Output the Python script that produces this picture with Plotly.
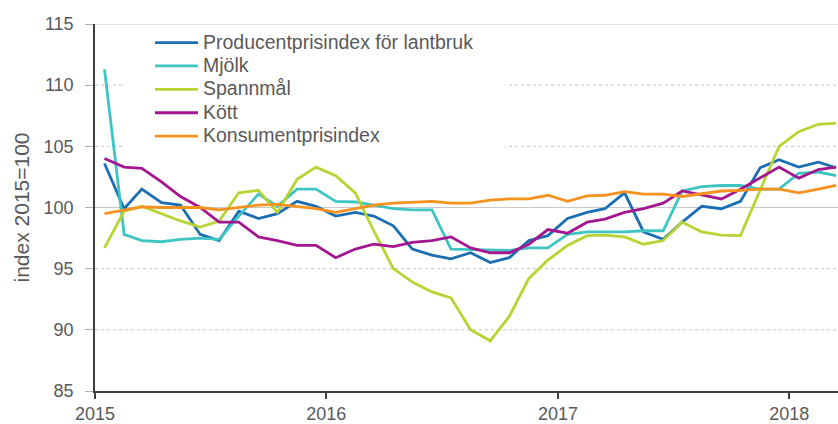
import pandas as pd
import plotly.graph_objects as go

# Monthly observations, Jan 2015 - Mar 2018
months = pd.date_range("2015-01-01", periods=39, freq="MS") + pd.Timedelta(days=15)

producentprisindex = [103.6, 99.9, 101.5, 100.4, 100.2, 97.8, 97.3, 99.7, 99.1, 99.5, 100.5, 100.1,
                      99.3, 99.6, 99.3, 98.5, 96.6, 96.1, 95.8, 96.3, 95.5, 95.9, 97.3, 97.7,
                      99.1, 99.6, 99.9, 101.2, 98.0, 97.4, 98.8, 100.1, 99.9, 100.5, 103.25, 103.9,
                      103.3, 103.7, 103.25]
mjolk = [111.3, 97.8, 97.3, 97.2, 97.4, 97.5, 97.4, 99.3, 101.1, 100.1, 101.5, 101.5,
         100.5, 100.45, 100.2, 99.9, 99.8, 99.8, 96.6, 96.55, 96.5, 96.5, 96.7, 96.7,
         97.8, 98.0, 98.0, 98.0, 98.1, 98.1, 101.35, 101.7, 101.8, 101.8, 101.5, 101.5,
         102.8, 102.9, 102.6]
spannmal = [96.7, 99.7, 100.1, 99.5, 98.9, 98.4, 98.9, 101.2, 101.4, 99.6, 102.3, 103.3,
            102.6, 101.2, 98.1, 95.0, 93.9, 93.1, 92.6, 90.0, 89.1, 91.1, 94.2, 95.7,
            96.9, 97.7, 97.75, 97.6, 97.0, 97.3, 98.8, 98.0, 97.75, 97.7, 101.4, 105.0,
            106.2, 106.8, 106.9]
kott = [104.0, 103.3, 103.2, 102.1, 100.9, 100.0, 98.8, 98.8, 97.6, 97.3, 96.9, 96.9,
        95.9, 96.6, 97.0, 96.8, 97.15, 97.3, 97.6, 96.7, 96.3, 96.3, 97.0, 98.2,
        97.9, 98.8, 99.05, 99.6, 99.9, 100.35, 101.35, 101.0, 100.7, 101.5, 102.4, 103.3,
        102.4, 103.1, 103.3]
kpi = [99.5, 99.8, 100.05, 100.0, 100.0, 100.0, 99.8, 100.0, 100.2, 100.25, 100.1, 99.9,
       99.6, 99.9, 100.2, 100.35, 100.4, 100.5, 100.35, 100.35, 100.6, 100.7, 100.7, 101.0,
       100.5, 100.95, 101.0, 101.3, 101.1, 101.1, 100.9, 101.1, 101.35, 101.4, 101.5, 101.5,
       101.2, 101.5, 101.8]

series_names = ["Producentprisindex för lantbruk", "Mjölk", "Spannmål", "Kött", "Konsumentprisindex"]
series_values = [producentprisindex, mjolk, spannmal, kott, kpi]
series_colors = ["#1a6fb3", "#3fc4c4", "#b7d432", "#a3168f", "#f7921e"]

year_ticks = ["2015-01-01", "2016-01-01", "2017-01-01", "2018-01-01"]
year_labels = ["2015", "2016", "2017", "2018"]
y_ticks = [85, 90, 95, 100, 105, 110, 115]
dotted_grid = [90, 95, 105, 110]

FONT = "Liberation Sans, Arial, sans-serif"
TXT = "#595959"

fig = go.Figure()
for name, vals, col in zip(series_names, series_values, series_colors):
    fig.add_trace(go.Scatter(x=months, y=vals, name=f'<span style="font-size:19.5px">{name}</span>',
                             mode="lines", line=dict(color=col, width=2.8)))

shapes = [dict(type="line", xref="paper", yref="y", x0=0, x1=1, y0=g, y1=g,
               line=dict(color="#c4c4c4", width=1, dash="dot"), layer="below")
          for g in dotted_grid]
shapes += [
    dict(type="rect", xref="paper", yref="paper", x0=0.036, x1=0.552, y0=0.63, y1=0.995,
         fillcolor="white", line=dict(width=0), layer="below"),
    dict(type="line", xref="paper", yref="y", x0=0, x1=1, y0=100, y1=100,
         line=dict(color="#c9c9c9", width=1.2), layer="below"),
    dict(type="line", xref="paper", yref="y", x0=0, x1=1, y0=115, y1=115,
         line=dict(color="#d6d6d6", width=1.5), layer="below"),
]

fig.update_layout(
    width=838, height=424,
    margin=dict(l=95, r=0, t=24, b=31),
    paper_bgcolor="white", plot_bgcolor="white",
    font=dict(family=FONT, size=18, color=TXT),
    showlegend=True,
    legend=dict(x=0.074, y=0.995, xanchor="left", yanchor="top",
                bgcolor="rgba(0,0,0,0)", font=dict(size=15.7, color=TXT),
                tracegroupgap=0, itemwidth=43),
    shapes=shapes,
)

fig.update_xaxes(
    type="date", range=["2015-01-01", "2018-03-19"],
    tickvals=year_ticks, ticktext=year_labels,
    showgrid=False, zeroline=False,
    showline=True, linecolor="#3f3f3f", linewidth=1.5,
    ticks="outside", ticklen=6, tickcolor="#3f3f3f", tickwidth=1.5,
    tickfont=dict(size=18, color=TXT),
)
fig.update_yaxes(
    range=[85, 115], tickvals=y_ticks,
    showgrid=False, zeroline=False,
    showline=True, linecolor="#3f3f3f", linewidth=1.5,
    ticks="outside", ticklen=8, tickcolor="#b0b0b0", tickwidth=1,
    ticklabelstandoff=8,
    tickfont=dict(size=18, color=TXT),
    title=dict(text="index 2015=100", font=dict(size=21, color=TXT), standoff=8),
)

fig.write_html("out.html", config={"displayModeBar": False},
               post_script="document.body.style.margin='0';")
